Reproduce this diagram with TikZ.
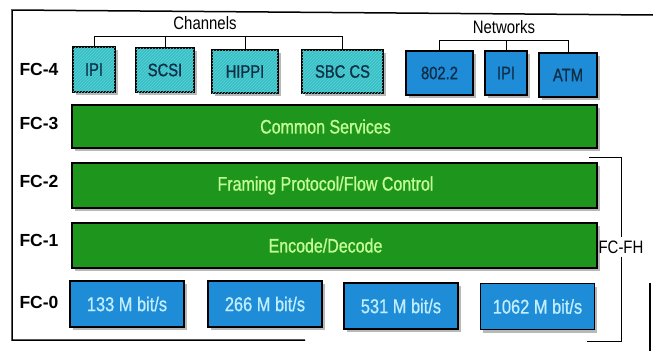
\documentclass[tikz,border=0pt]{standalone}
\usepackage{fontspec}
\setmainfont{Liberation Sans}[FakeStretch=0.83]
\newfontfamily\heavyfont{Liberation Sans}[FakeStretch=0.82, FakeBold=0.9]
\newfontfamily\fclabfont{Liberation Sans}
\usetikzlibrary{shadows,patterns}
\definecolor{cyanfill}{HTML}{36C0C6}
\definecolor{cyanhatch}{HTML}{5CD0D4}
\definecolor{bluefill}{HTML}{1E8CD6}
\definecolor{greenfill}{HTML}{1E961E}
\definecolor{darktxt}{HTML}{0E2E48}
\definecolor{lightblue}{HTML}{C0EEFF}
\definecolor{lightgreen}{HTML}{C4FF96}
\definecolor{shadowgray}{HTML}{B8B8B8}
\tikzset{
  base/.style={draw=black, line width=1.3pt, inner sep=0pt, outer sep=0pt,
    drop shadow={shadow xshift=2.5pt, shadow yshift=-3pt, fill=shadowgray, opacity=1}},
  chanbox/.style={base, fill=cyanfill, postaction={pattern=north east lines, pattern color=cyanhatch},
    text=darktxt, font=\heavyfont\fontsize{18}{18}\selectfont},
  netbox/.style={base, fill=bluefill, text=darktxt, font=\heavyfont\fontsize{18}{18}\selectfont},
  ratebox/.style={base, fill=bluefill, text=lightblue, font=\heavyfont\fontsize{20}{20}\selectfont,
    minimum width=114pt, minimum height=46pt},
  bar/.style={base, fill=greenfill, minimum width=525pt},
  bartxt/.style={text=lightgreen, font=\heavyfont\fontsize{19.5}{19.5}\selectfont},
  fclab/.style={anchor=west, font=\fclabfont\bfseries\fontsize{17.5}{17.5}\selectfont},
  grouplab/.style={font=\fontsize{18}{18}\selectfont},
  conn/.style={draw=black, line width=1pt},
  frame/.style={draw=black, line width=1.5pt},
}
\begin{document}
\begin{tikzpicture}[x=1pt,y=-1pt]
\useasboundingbox (0,0) rectangle (653,351);
% outer frame (as printed: partly broken at bottom and right)
\coordinate (ftl) at (12,10);
\coordinate (ftr) at (653,15);
\coordinate (fbl) at (12,340);
\coordinate (fbm) at (305,340);
\coordinate (frt) at (650,283);
\coordinate (frb) at (650,351);
\draw[frame] (ftr) -- (ftl) -- (fbl) -- (fbm);
\draw[frame] (frt) -- (frb);

% layer labels
\node[fclab] (l4) at (16,69) {FC-4};
\node[fclab] (l3) at (16,123) {FC-3};
\node[fclab] (l2) at (16,181) {FC-2};
\node[fclab] (l1) at (16,240) {FC-1};
\node[fclab] (l0) at (16,302) {FC-0};

% FC-4 channels
\node[chanbox, minimum width=42pt, minimum height=45pt] (ipi) at (94,69.5) {IPI};
\node[chanbox, minimum width=58pt, minimum height=44pt] (scsi) at (165,70) {SCSI};
\node[chanbox, minimum width=66pt, minimum height=43pt] (hippi) at (245,71.5) {HIPPI};
\node[chanbox, minimum width=81pt, minimum height=43pt] (sbc) at (342.5,71.5) {SBC CS};
% FC-4 networks
\node[netbox, minimum width=67pt, minimum height=44pt] (n802) at (439.5,73) {802.2};
\node[netbox, minimum width=42pt, minimum height=44pt] (nipi) at (506,73) {IPI};
\node[netbox, minimum width=58pt, minimum height=44pt] (atm) at (568,75) {ATM};

% group labels and brackets
\node[grouplab] (chan) at (205,23) {Channels};
\node[grouplab] (net) at (504,27) {Networks};
\coordinate (cb) at (0,36);
\coordinate (nb) at (0,40);
\draw[conn] (ipi.north) -- (ipi.north |- cb) -- (sbc.north |- cb) -- (sbc.north);
\draw[conn] (scsi.north) -- (scsi.north |- cb);
\draw[conn] (hippi.north) -- (hippi.north |- cb);
\draw[conn] (n802.north) -- (n802.north |- nb) -- (atm.north |- nb) -- (atm.north);
\draw[conn] (nipi.north) -- (nipi.north |- nb);

% green bars
\node[bar, minimum height=43pt, label={[bartxt, xshift=-9pt]center:Common Services}] (fc3) at (334.5,126.5) {};
\node[bar, minimum height=45pt, label={[bartxt, xshift=-9pt]center:Framing Protocol/Flow Control}] (fc2) at (334.5,185.5) {};
\node[bar, minimum height=45pt, label={[bartxt, xshift=-9pt]center:Encode/Decode}] (fc1) at (334.5,245.5) {};

% FC-0 rates
\node[ratebox] (r133) at (127,304) {133 M bit/s};
\node[ratebox] (r266) at (265,304) {266 M bit/s};
\node[ratebox] (r531) at (401,306) {531 M bit/s};
\node[ratebox] (r1062) at (537.5,306.5) {1062 M bit/s};

% FC-FH bracket
\node[grouplab, inner sep=3pt] (fcfh) at (621,247) {FC-FH};
\coordinate (fhtop) at (589,157);
\coordinate (fhbot) at (587,341);
\draw[conn] (fhtop) -| (fcfh.north);
\draw[conn] (fcfh.south) |- (fhbot);
\end{tikzpicture}
\end{document}
